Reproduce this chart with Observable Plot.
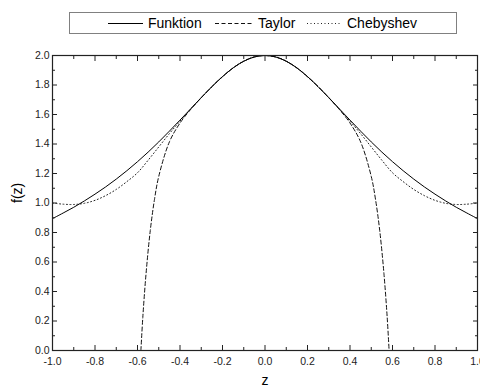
<!DOCTYPE html>
<html><head><meta charset="utf-8">
<script src="https://cdn.jsdelivr.net/npm/d3@7"></script>
<script src="https://cdn.jsdelivr.net/npm/@observablehq/plot@0.6"></script>
<style>
html,body{margin:0;padding:0;background:#fff;overflow:hidden;}
body{width:480px;height:385px;position:relative;font-family:"Liberation Sans",Arial,sans-serif;}
#legend{position:absolute;left:69px;top:12px;width:388px;height:22px;box-sizing:border-box;border:1px solid #808080;}
#legend .it{position:absolute;top:0;height:20px;display:flex;align-items:center;font-size:14px;color:#000;white-space:nowrap;}
#legend .it span{margin-left:5px;}
#chart{position:absolute;left:0;top:45px;}
</style></head><body>
<div id="legend"></div>
<div id="chart"></div>
<script>
// Grid of z values for the function and Chebyshev curves
const zGrid = [-1.00,-0.95,-0.90,-0.85,-0.80,-0.75,-0.70,-0.65,-0.60,-0.55,-0.50,-0.45,-0.40,-0.35,-0.30,-0.25,-0.20,-0.15,-0.10,-0.05,
  0.00,0.05,0.10,0.15,0.20,0.25,0.30,0.35,0.40,0.45,0.50,0.55,0.60,0.65,0.70,0.75,0.80,0.85,0.90,0.95,1.00];
const funktionVals = [0.894,0.932,0.971,1.014,1.060,1.109,1.162,1.219,1.280,1.345,1.414,1.487,1.562,1.638,1.715,1.789,1.857,1.916,1.961,1.990,
  2.000,1.990,1.961,1.916,1.857,1.789,1.715,1.638,1.562,1.487,1.414,1.345,1.280,1.219,1.162,1.109,1.060,1.014,0.971,0.932,0.894];
const chebyshevVals = [1.000,0.992,0.990,0.998,1.018,1.050,1.092,1.145,1.205,1.290,1.380,1.470,1.555,1.637,1.713,1.787,1.855,1.915,1.962,1.991,
  2.000,1.991,1.962,1.915,1.855,1.787,1.713,1.637,1.555,1.470,1.380,1.290,1.205,1.145,1.092,1.050,1.018,0.998,0.990,0.992,1.000];
// Taylor curve samples
const taylorZ = [-0.584,-0.575,-0.56,-0.54,-0.52,-0.50,-0.45,-0.40,-0.35,-0.30,-0.25,-0.20,-0.15,-0.10,-0.05,
  0.00,0.05,0.10,0.15,0.20,0.25,0.30,0.35,0.40,0.45,0.50,0.52,0.54,0.56,0.575,0.584];
const taylorVals = [0.000,0.225,0.517,0.812,1.025,1.180,1.414,1.542,1.634,1.714,1.789,1.857,1.916,1.961,1.990,
  2.000,1.990,1.961,1.916,1.857,1.789,1.714,1.634,1.542,1.414,1.180,1.025,0.812,0.517,0.225,0.000];
// Ticks
const xMajor = [-1.0,-0.8,-0.6,-0.4,-0.2,0.0,0.2,0.4,0.6,0.8,1.0];
const xMinor = [-0.9,-0.7,-0.5,-0.3,-0.1,0.1,0.3,0.5,0.7,0.9];
const yMajor = [0.0,0.2,0.4,0.6,0.8,1.0,1.2,1.4,1.6,1.8,2.0];
const yMinor = [0.1,0.3,0.5,0.7,0.9,1.1,1.3,1.5,1.7,1.9];
const seriesNames = ["Funktion","Taylor","Chebyshev"];
const xLabel = "z", yLabel = "f(z)";

const funkRows = zGrid.map((z,i)=>({z, v: funktionVals[i]}));
const chebRows = zGrid.map((z,i)=>({z, v: chebyshevVals[i]}));
const taylorRows = taylorZ.map((z,i)=>({z, v: taylorVals[i]}));

const styles = [
  {stroke:"#000", dash:null},
  {stroke:"#111", dash:"4,2.5"},
  {stroke:"#222", dash:"1,2.5"}
];
// Legend
const lefts = [38,145,237];
const widths = [35,38,35];
const leg = document.getElementById("legend");
seriesNames.forEach((name,i)=>{
  const d = document.createElement("div");
  d.className = "it";
  d.style.left = lefts[i]+"px";
  const w = widths[i];
  d.innerHTML = `<svg width="${w}" height="20"><line x1="0" x2="${w}" y1="10.5" y2="10.5" stroke="${styles[i].stroke}" stroke-width="1" ${styles[i].dash?`stroke-dasharray="${styles[i].dash}"`:""}/></svg><span>${name}</span>`;
  leg.appendChild(d);
});

const fmt = d => d.toFixed(1);
const plot = Plot.plot({
  width: 480, height: 345,
  marginLeft: 52, marginRight: 3, marginTop: 10, marginBottom: 40,
  x: {domain: [-1,1]},
  y: {domain: [0,2]},
  style: {fontFamily: "'Liberation Sans', Arial, sans-serif", fontSize: "10.5px", color: "#000", background: "#fff", overflow: "visible"},
  marks: [
    Plot.line(taylorRows, {x:"z", y:"v", stroke: styles[1].stroke, strokeWidth:1, strokeDasharray: styles[1].dash, curve:"catmull-rom", clip:true}),
    Plot.line(chebRows, {x:"z", y:"v", stroke: styles[2].stroke, strokeWidth:1, strokeDasharray: styles[2].dash, curve:"catmull-rom"}),
    Plot.line(funkRows, {x:"z", y:"v", stroke: styles[0].stroke, strokeWidth:1, curve:"catmull-rom"}),
    Plot.axisX(xMajor, {anchor:"bottom", tickSize:-5, fill:"none", stroke:"#222", label:null}),
    Plot.axisX(xMinor, {anchor:"bottom", tickSize:-3, fill:"none", stroke:"#222", label:null}),
    Plot.axisX(xMajor, {anchor:"top", tickSize:-5, fill:"none", stroke:"#222", label:null}),
    Plot.axisX(xMinor, {anchor:"top", tickSize:-3, fill:"none", stroke:"#222", label:null}),
    Plot.axisY(yMajor, {anchor:"left", tickSize:-5, fill:"none", stroke:"#222", label:null}),
    Plot.axisY(yMinor, {anchor:"left", tickSize:-3, fill:"none", stroke:"#222", label:null}),
    Plot.axisY(yMajor, {anchor:"right", tickSize:-5, fill:"none", stroke:"#222", label:null}),
    Plot.axisY(yMinor, {anchor:"right", tickSize:-3, fill:"none", stroke:"#222", label:null}),
    Plot.axisX(xMajor, {anchor:"bottom", tickSize:0, tickPadding:7, tickFormat: fmt, fill:"#222", label:null}),
    Plot.axisY(yMajor, {anchor:"left", tickSize:0, tickPadding:3, tickFormat: fmt, fill:"#222", label:null}),
    Plot.frame({stroke:"#222", strokeWidth:1.2}),
    Plot.text([yLabel], {frameAnchor:"left", dx:-35, rotate:-90, fontSize:14, fill:"#000"}),
    Plot.text([xLabel], {frameAnchor:"bottom", dy:25, lineAnchor:"top", fontSize:14, fill:"#000"})
  ]
});
document.getElementById("chart").appendChild(plot);
</script>
</body></html>
